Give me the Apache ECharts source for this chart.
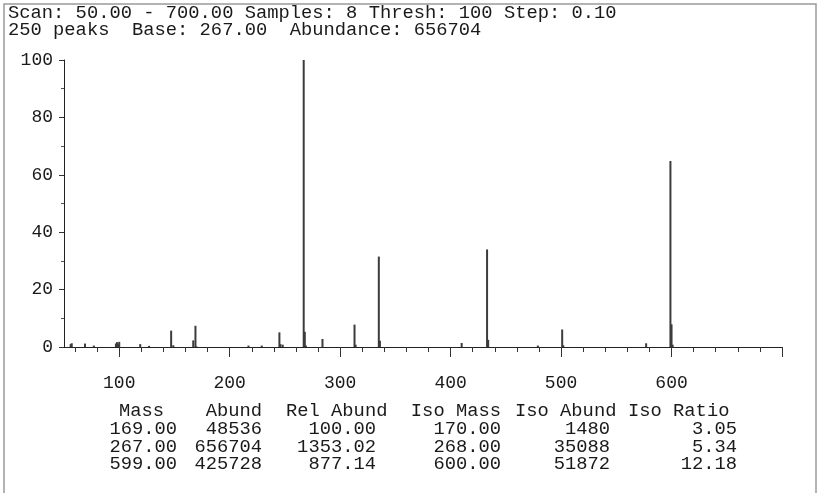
<!DOCTYPE html>
<html>
<head>
<meta charset="utf-8">
<style>
  html, body { margin: 0; padding: 0; background: #fff; }
  #chart { width: 819px; height: 493px; }
</style>
<script src="https://cdn.jsdelivr.net/npm/echarts@6/dist/echarts.min.js"></script>
</head>
<body>
<div id="chart"></div>
<script>
// spectrum peaks: m/z and relative abundance (%)
const peakMass = [56, 57, 69, 77, 97, 98, 99, 100, 119, 127, 147, 149, 167, 169, 170,
  217, 229, 245, 246, 248, 267, 268, 269, 284, 313, 314, 335, 336, 410, 433, 434,
  479, 501, 502, 577, 599, 600, 601];
const peakAbund = [1.0, 1.3, 1.2, 0.5, 1.2, 1.7, 1.0, 1.8, 1.0, 0.4, 5.7, 0.6, 2.3, 7.4, 0.2,
  0.5, 0.5, 5.1, 1.0, 0.8, 100, 5.3, 0.5, 2.8, 7.8, 0.8, 31.5, 2.2, 1.4, 34.0, 2.5,
  0.5, 6.1, 0.6, 1.3, 64.8, 7.9, 0.8];

const xLabels = [100, 200, 300, 400, 500, 600];
const xMajorTicks = [100, 200, 300, 400, 500, 600, 700];
const xMinorTicks = [60, 80, 120, 140, 160, 180, 220, 240, 260, 280, 320, 340, 360, 380,
  420, 440, 460, 480, 520, 540, 560, 580, 620, 640, 660, 680];

const headerLines = [
  'Scan: 50.00 - 700.00 Samples: 8 Thresh: 100 Step: 0.10',
  '250 peaks  Base: 267.00  Abundance: 656704'
];

// table under the plot
const tableHeaders = ['Mass', 'Abund', 'Rel Abund', 'Iso Mass', 'Iso Abund', 'Iso Ratio'];
const massCol = ['169.00', '267.00', '599.00'];
const abundCol = ['48536', '656704', '425728'];
const relAbundCol = ['100.00', '1353.02', '877.14'];
const isoMassCol = ['170.00', '268.00', '600.00'];
const isoAbundCol = ['1480', '35088', '51872'];
const isoRatioCol = ['3.05', '5.34', '12.18'];

const FONT = "'Courier New', 'Liberation Mono', monospace";
const TXT = '#1a1a1a';

const chart = echarts.init(document.getElementById('chart'));

const graphics = [
  {
    type: 'rect',
    shape: { x: 4, y: 4, width: 812, height: 500 },
    style: { fill: null, stroke: '#9a9a9a', lineWidth: 1.5 },
    silent: true
  }
];
headerLines.forEach((t, i) => {
  graphics.push({
    type: 'text', x: 8, y: 13 + i * 17,
    style: { text: t, font: '18.8px ' + FONT, fill: TXT, textVerticalAlign: 'middle' }
  });
});

// header cells: [x, align]
const headerPos = [[119, 'left'], [262, 'right'], [286, 'left'], [501, 'right'], [515, 'left'], [628, 'left']];
tableHeaders.forEach((h, i) => {
  graphics.push({
    type: 'text', x: headerPos[i][0], y: 411,
    style: { text: h, font: '18.8px ' + FONT, fill: TXT, textAlign: headerPos[i][1], textVerticalAlign: 'middle' }
  });
});
const cols = [massCol, abundCol, relAbundCol, isoMassCol, isoAbundCol, isoRatioCol];
const colRight = [177, 262, 376, 501, 610, 737];
const rowY = [429.5, 447, 464];
cols.forEach((col, c) => {
  col.forEach((v, r) => {
    graphics.push({
      type: 'text', x: colRight[c], y: rowY[r],
      style: { text: v, font: '18.8px ' + FONT, fill: TXT, textAlign: 'right', textVerticalAlign: 'middle' }
    });
  });
});

const option = {
  animation: false,
  backgroundColor: '#fff',
  grid: { left: 64, right: 37, top: 60, bottom: 146 },
  xAxis: [
    {
      type: 'value', min: 50, max: 700,
      axisLine: { lineStyle: { color: '#222', width: 1 } },
      axisTick: { customValues: xMajorTicks, length: 10, lineStyle: { color: '#333' } },
      axisLabel: { customValues: xLabels, margin: 27, color: TXT, fontFamily: FONT, fontSize: 18 },
      splitLine: { show: false }
    },
    {
      type: 'value', min: 50, max: 700, position: 'bottom',
      axisLine: { show: false },
      axisTick: { customValues: xMinorTicks, length: 5, lineStyle: { color: '#333' } },
      axisLabel: { show: false },
      splitLine: { show: false }
    }
  ],
  yAxis: {
    type: 'value', min: 0, max: 100, interval: 20,
    axisLine: { show: true, lineStyle: { color: '#222', width: 1 } },
    axisTick: { show: true, length: 5, lineStyle: { color: '#333' } },
    minorTick: { show: true, splitNumber: 2, length: 3, lineStyle: { color: '#555' } },
    axisLabel: { margin: 11, color: TXT, fontFamily: FONT, fontSize: 18 },
    splitLine: { show: false }
  },
  graphic: graphics,
  series: [
    {
      type: 'bar',
      xAxisIndex: 0,
      barWidth: 2,
      silent: true,
      itemStyle: { color: '#3c3c3c' },
      data: peakMass.map((m, i) => [m, peakAbund[i]])
    }
  ]
};

chart.setOption(option);
</script>
</body>
</html>
